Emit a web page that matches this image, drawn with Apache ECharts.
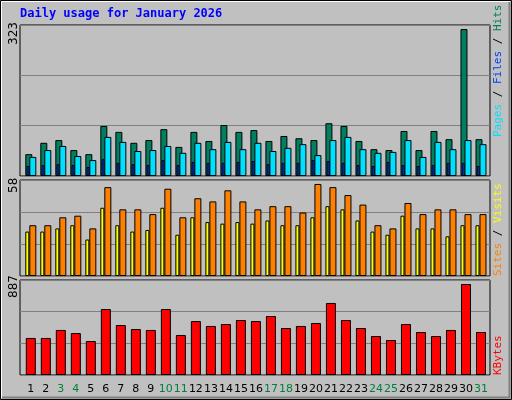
<!DOCTYPE html>
<html><head><meta charset="utf-8">
<script src="https://cdn.jsdelivr.net/npm/echarts@6/dist/echarts.min.js"></script>
<style>html,body{margin:0;padding:0;background:#c0c0c0}#c{width:512px;height:400px}</style>
</head><body><div id="c"></div>
<script>
const days = Array.from({length:31},(_,i)=>i+1);
const weekends = [3,4,10,11,17,18,24,25,31];
const hits  = [48,73,79,57,48,110,97,73,79,103,64,97,77,112,97,101,77,88,83,79,116,110,77,59,57,99,57,99,81,323,81];
const files = [42,57,66,44,35,86,75,55,57,66,51,73,59,75,59,73,55,62,70,46,79,86,59,51,53,79,42,75,59,79,70];
const pages = [22,24,26,24,20,37,29,26,24,35,24,31,29,29,31,33,26,29,29,35,33,29,24,22,31,24,22,24,29,29,22];
const visits= [32,32,37,38,30,56,42,42,39,55,37,49,47,54,47,42,44,44,40,58,56,51,45,32,30,46,39,42,42,39,39];
const sites = [28,28,30,32,23,43,32,28,29,43,26,37,34,33,34,33,35,32,32,37,44,42,35,28,26,38,30,30,25,32,32];
const kbytes= [361,361,439,409,331,643,487,448,439,643,390,526,478,497,536,526,575,458,478,507,702,536,458,380,341,497,419,380,439,887,419];

const chart = echarts.init(document.getElementById('c'));
const pair = a => a.map((v,i)=>[days[i],v]);
const bd = {borderColor:'#000',borderWidth:1};
const xa = (g,min,max,extra) => Object.assign({type:'value',gridIndex:g,min:min,max:max,show:false},extra||{});
const ya = (g,max) => ({type:'value',gridIndex:g,min:0,max:max,interval:max/3,axisLabel:{show:false},axisLine:{show:false},axisTick:{show:false},splitLine:{lineStyle:{color:'#808080',width:1}}});
const mono = '"DejaVu Sans Mono", monospace';
chart.setOption({
  animation:false,
  backgroundColor:'#c0c0c0',
  grid:[
    {left:20,top:25,width:470,height:151,show:true,borderColor:'#000',borderWidth:1},
    {left:20,top:180,width:470,height:96,show:true,borderColor:'#000',borderWidth:1},
    {left:20,top:280,width:470,height:95,show:true,borderColor:'#000',borderWidth:1}
  ],
  xAxis:[
    xa(0,0.28,31.6), xa(0,0.467,31.787),
    xa(1,0.28,31.6),
    xa(2,0.28,31.6,{show:true,axisLine:{show:false},axisTick:{show:false},splitLine:{show:false},
      axisLabel:{customValues:days,margin:9,fontFamily:'DejaVu Sans',fontSize:11,
        formatter:v=>weekends.includes(v)?'{w|'+v+'}':'{d|'+v+'}',
        rich:{w:{color:'#008040',fontFamily:'DejaVu Sans',fontSize:11},d:{color:'#000',fontFamily:'DejaVu Sans',fontSize:11}}}})
  ],
  yAxis:[ya(0,332),ya(0,332),ya(1,60.5),ya(2,926)],
  series:[
    {type:'bar',name:'Hits',xAxisIndex:0,yAxisIndex:0,data:pair(hits),barWidth:7,barGap:'-43%',itemStyle:Object.assign({color:'#008060'},bd)},
    {type:'bar',name:'Files',xAxisIndex:0,yAxisIndex:0,data:pair(files),barWidth:7,itemStyle:Object.assign({color:'#00e0ff'},bd)},
    {type:'bar',name:'Pages',xAxisIndex:1,yAxisIndex:1,data:pair(pages),barWidth:3,z:5,itemStyle:Object.assign({color:'#0040ff'},bd)},
    {type:'bar',name:'Sites',xAxisIndex:2,yAxisIndex:2,data:pair(sites),barWidth:4,barGap:'0%',itemStyle:Object.assign({color:'#ffff00'},bd)},
    {type:'bar',name:'Visits',xAxisIndex:2,yAxisIndex:2,data:pair(visits),barWidth:7,itemStyle:Object.assign({color:'#ff8000'},bd)},
    {type:'bar',name:'KBytes',xAxisIndex:3,yAxisIndex:3,data:pair(kbytes),barWidth:10,itemStyle:Object.assign({color:'#ff0000'},bd)}
  ],
  graphic:[
    {type:'rect',shape:{x:0.5,y:0.5,width:511,height:399},style:{fill:'none',stroke:'#000',lineWidth:1},silent:true},
    {type:'polyline',shape:{points:[[1.5,398],[1.5,1.5],[510,1.5]]},style:{stroke:'#fff',fill:'none',lineWidth:1}},
    {type:'polyline',shape:{points:[[2,397.5],[509.5,397.5],[509.5,2]]},style:{stroke:'#808080',fill:'none',lineWidth:2}},
    {type:'text',left:20,top:8,style:{text:'Daily usage for January 2026',fill:'#0000ff',font:'bold 12px '+mono}},
    {type:'text',x:8,y:45,rotation:Math.PI/2,style:{text:String(Math.max(...hits)),fill:'#000',font:'12px DejaVu Sans'}},
    {type:'text',x:8,y:193,rotation:Math.PI/2,style:{text:String(Math.max(...visits)),fill:'#000',font:'12px DejaVu Sans'}},
    {type:'text',x:8,y:298,rotation:Math.PI/2,style:{text:String(Math.max(...kbytes)),fill:'#000',font:'12px DejaVu Sans'}},
    {type:'text',x:493,y:137,rotation:Math.PI/2,style:{text:'{a|Pages}{s| / }{b|Files}{s| / }{c|Hits}',font:'11px '+mono,
      rich:{a:{fill:'#00e0ff',font:'11px '+mono},b:{fill:'#0040ff',font:'11px '+mono},c:{fill:'#008060',font:'11px '+mono},s:{fill:'#000',font:'11px '+mono}}}},
    {type:'text',x:493,y:276,rotation:Math.PI/2,style:{text:'{a|Sites}{s| / }{b|Visits}',font:'11px '+mono,
      rich:{a:{fill:'#ff8000',font:'11px '+mono},b:{fill:'#ffff00',font:'11px '+mono},s:{fill:'#000',font:'11px '+mono}}}},
    {type:'text',x:493,y:375,rotation:Math.PI/2,style:{text:'KBytes',fill:'#ff0000',font:'11px '+mono}}
  ]
});
</script></body></html>
